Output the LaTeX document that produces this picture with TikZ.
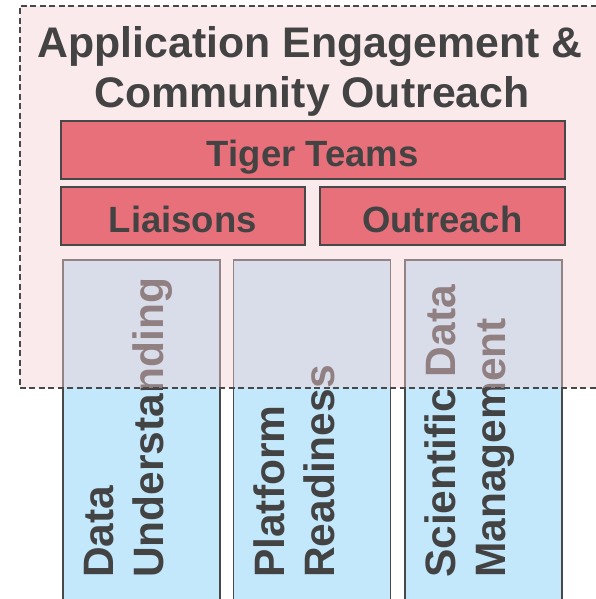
\documentclass[tikz,border=0pt]{standalone}
\usepackage{fontspec}
\setmainfont{Liberation Sans}
\definecolor{txt}{RGB}{67,67,67}
\definecolor{edge}{RGB}{72,72,72}
\definecolor{colblue}{RGB}{195,232,252}
\definecolor{boxred}{RGB}{232,112,122}
\definecolor{pinkov}{RGB}{246,207,212}
\begin{document}
\begin{tikzpicture}[x=1pt,y=-1pt,
  colbox/.style={draw=edge,line width=1.6pt,fill=colblue,anchor=north west,
    minimum width=157pt,minimum height=400pt,inner sep=0pt},
  coltext/.style={rotate=90,anchor=base west,text=txt,align=left,inner sep=0pt,
    font=\fontsize{42.5}{50}\selectfont\bfseries},
  areabox/.style={draw=edge,line width=1.8pt,dash pattern=on 6pt off 3.5pt,
    fill=pinkov,fill opacity=0.44,draw opacity=1,anchor=north west,
    minimum width=601pt,minimum height=382pt,inner sep=0pt},
  titletext/.style={anchor=base,text=txt,inner sep=0pt,
    font=\fontsize{42.8}{49}\selectfont\bfseries},
  redbox/.style={draw=edge,line width=1.6pt,fill=boxred,anchor=north west,
    minimum height=58pt,inner sep=0pt,text=txt,text height=34pt,text depth=0pt,
    font=\fontsize{36.5}{40}\selectfont\bfseries}]
\useasboundingbox (0,0) rectangle (595,599);
% columns
\node[colbox] (c1) at (62,259) {};
\node[colbox] (c2) at (232.5,259) {};
\node[colbox] (c3) at (404,259) {};
\node[coltext] (t1) at (163,578) {Data\\Understanding};
\node[coltext] (t2) at (334,578) {Platform\\Readiness};
\node[coltext] (t3) at (505,578) {Scientific Data\\Management};
% translucent area
\node[areabox] (area) at (19,5) {};
% title
\node[titletext] (title1) at (310,58) {Application Engagement \&};
\node[titletext] (title2) at (312,107) {Community Outreach};
% red boxes
\node[redbox,minimum width=504pt] (tiger) at (60,120) {Tiger Teams};
\node[redbox,minimum width=244pt] (liaisons) at (60,186) {Liaisons};
\node[redbox,minimum width=245pt] (outreach) at (319,186) {Outreach};
\end{tikzpicture}
\end{document}
